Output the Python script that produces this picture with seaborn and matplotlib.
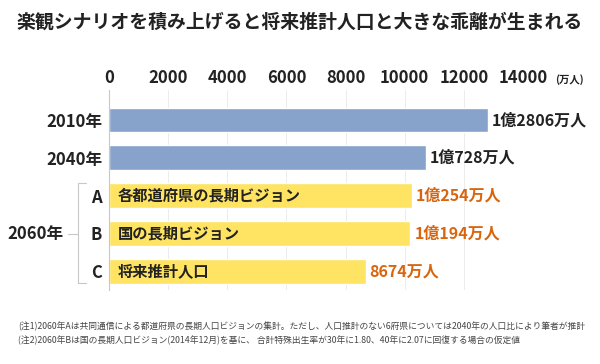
import matplotlib
matplotlib.use("Agg")
import matplotlib.pyplot as plt
import seaborn as sns
import pandas as pd
from matplotlib.lines import Line2D

sns.set_theme(style="white")
plt.rcParams['font.family'] = ['Noto Sans CJK JP', 'DejaVu Sans']

categories = ["2010年", "2040年", "A", "B", "C"]
values = [12806, 10728, 10254, 10194, 8674]
groups = ["past", "past", "scenario", "scenario", "scenario"]
value_labels = ["1億2806万人", "1億728万人", "1億254万人", "1億194万人", "8674万人"]
inner_labels = ["", "", "各都道府県の長期ビジョン", "国の長期ビジョン", "将来推計人口"]
xticks = [0, 2000, 4000, 6000, 8000, 10000, 12000, 14000]
title = "楽観シナリオを積み上げると将来推計人口と大きな乖離が生まれる"
notes = ["(注1)2060年Aは共同通信による都道府県の長期人口ビジョンの集計。ただし、人口推計のない6府県については2040年の人口比により筆者が推計",
         "(注2)2060年Bは国の長期人口ビジョン(2014年12月)を基に、 合計特殊出生率が30年に1.80、40年に2.07に回復する場合の仮定値"]

df = pd.DataFrame({"cat": categories, "val": values, "grp": groups})

fig = plt.figure(figsize=(6, 3.64), dpi=100)
ax = fig.add_axes([109/600, 1-290/364, 414/600, 200/364])
sns.barplot(data=df, x="val", y="cat", hue="grp", orient="h",
            palette={"past": "#87a2cb", "scenario": "#fee462"}, saturation=1,
            width=0.66, dodge=False, legend=False, ax=ax, zorder=2)
ax.set_xlim(0, 14000)
ax.set_ylim(4.5, -0.795)
ax.set_xlabel("")
ax.set_ylabel("")
ax.xaxis.tick_top()
ax.set_xticks(xticks)
ax.set_xticklabels([str(t) for t in xticks], fontsize=12, fontweight="bold", color="#222222")
ax.tick_params(axis="x", length=0, pad=2)
ax.tick_params(axis="y", length=0, pad=5)
for lab in ax.get_yticklabels():
    lab.set_fontsize(12)
    lab.set_fontweight("bold")
    lab.set_color("#222222")
for s in ["top", "right", "bottom"]:
    ax.spines[s].set_visible(False)
ax.spines["left"].set_color("#c8c8c8")
ax.spines["left"].set_linewidth(0.8)
ax.grid(axis="x", color="#ececec", linewidth=0.7, zorder=0)
ax.set_axisbelow(True)

for i, (v, lab, inner, g) in enumerate(zip(values, value_labels, inner_labels, groups)):
    col = "#222222" if g == "past" else "#d9650e"
    ax.text(v + 130, i, lab, va="center", ha="left", fontsize=11.5, fontweight="bold", color=col)
    if inner:
        ax.text(300, i, inner, va="center", ha="left", fontsize=11, fontweight="bold", color="#222222")

fig.text(555/600, 1-80/364, "(万人)", fontsize=7.5, fontweight="bold",
         color="#222222", va="center", ha="left")
# 2060 bracket
bx0, bx1 = 78/600, 86/600
yt, yb, ym = 1-183/364, 1-283/364, 1-234/364
for xs, ys in [([bx1, bx0, bx0, bx1], [yt, yt, yb, yb]), ([68/600, bx0], [ym, ym])]:
    fig.add_artist(Line2D(xs, ys, color="#c8c8c8", linewidth=0.8, transform=fig.transFigure))
fig.text(64/600, ym, "2060年", ha="right", va="center", fontsize=12, fontweight="bold", color="#222222")

fig.text(0.5, 1-22/364, title, ha="center", va="center", fontsize=13.6, fontweight="bold", color="#222222")
fig.text(18/600, 1-326/364, notes[0], ha="left", va="center", fontsize=6.3, color="#444444")
fig.text(18/600, 1-340/364, notes[1], ha="left", va="center", fontsize=6.3, color="#444444")

fig.savefig("out.png", dpi=100)
